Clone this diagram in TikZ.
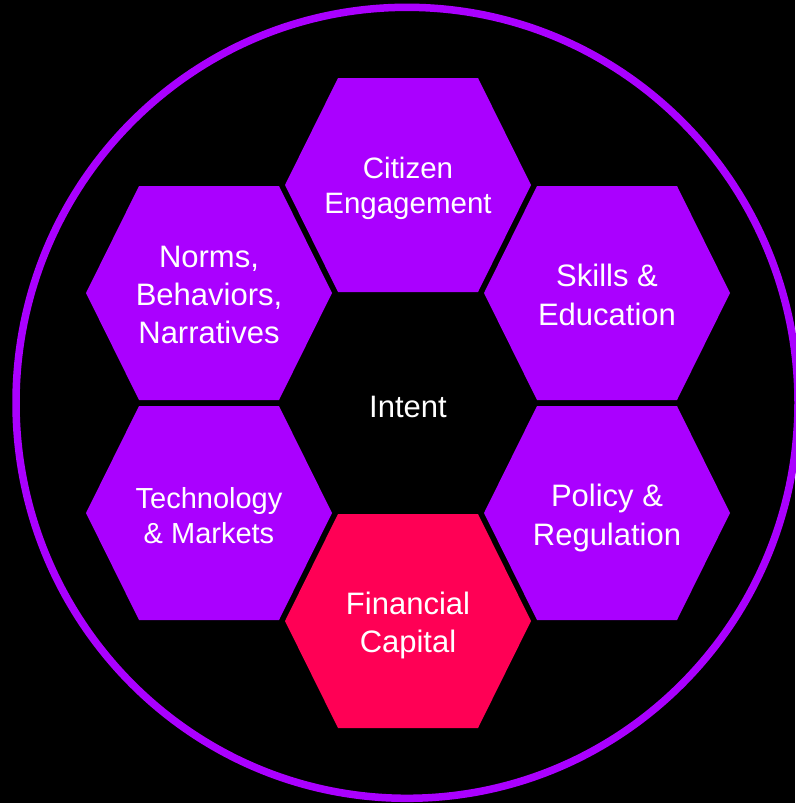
\documentclass[tikz,border=0pt]{standalone}
\usepackage{fontspec}
\setmainfont{Liberation Sans}
\definecolor{hexpurple}{HTML}{AA00FF}
\definecolor{hexpink}{HTML}{FF0055}
\tikzset{
  hexagon/.pic={\fill (-70,-107) -- (70,-107) -- (123,0) -- (70,107) -- (-70,107) -- (-123,0) -- cycle;},
  hextext/.style={text=white, align=center, inner sep=0pt},
}
\begin{document}
\begin{tikzpicture}[x=1pt,y=-1pt]
\fill[black] (0,0) rectangle (795,803);
\useasboundingbox (0,0) rectangle (795,803);
\draw[hexpurple, line width=7.5pt] (407,402.8) ellipse [x radius=391, y radius=395.5];
\pic[fill=hexpurple] at (408,185) {hexagon};
\pic[fill=hexpurple] at (209,293) {hexagon};
\pic[fill=hexpurple] at (607,293) {hexagon};
\pic[fill=hexpurple] at (209,513) {hexagon};
\pic[fill=hexpurple] at (607,513) {hexagon};
\pic[fill=hexpink] at (408,621) {hexagon};
\node[hextext, font=\fontsize{29.5}{35}\selectfont] (citizen) at (408,188) {Citizen\\Engagement};
\node[hextext, font=\fontsize{31}{38}\selectfont] (norms) at (209,295) {Norms,\\Behaviors,\\Narratives};
\node[hextext, font=\fontsize{31}{39}\selectfont] (skills) at (607,295) {Skills \&\\Education};
\node[hextext, font=\fontsize{29}{35}\selectfont] (tech) at (209,516) {Technology\\\& Markets};
\node[hextext, font=\fontsize{31}{39}\selectfont] (policy) at (607,517.5) {Policy \&\\Regulation};
\node[hextext, font=\fontsize{31}{38}\selectfont] (fin) at (408,625) {Financial\\Capital};
\node[hextext, font=\fontsize{31}{35}\selectfont] (intent) at (408,407) {Intent};
\end{tikzpicture}
\end{document}
